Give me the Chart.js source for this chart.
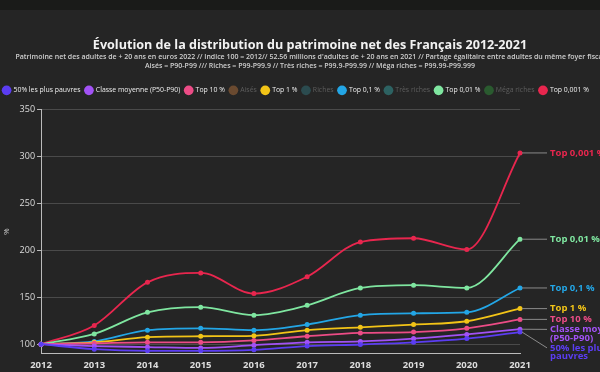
<!DOCTYPE html>
<html>
<head>
<meta charset="utf-8">
<script src="https://cdn.jsdelivr.net/npm/chart.js@4"></script>
<style>
html,body{margin:0;padding:0;background:#252525;overflow:hidden;width:600px;height:372px;}
#wrap{position:absolute;left:-5px;top:0;width:630px;height:372px;}
</style>
</head>
<body>
<div id="wrap"><canvas id="c" width="630" height="372"></canvas></div>
<script>
const years = ['2012','2013','2014','2015','2016','2017','2018','2019','2020','2021'];
const pauvres = [100, 94.7, 93, 93, 94, 98, 99.7, 102, 106, 113];
const moyenne = [100, 98, 97, 96, 99, 102, 103, 106, 110.5, 116];
const top10 = [100, 101, 102, 102, 104, 108.5, 112, 113, 117, 126.5];
const aises = [];
const top1 = [100, 102, 107.5, 108.5, 109, 115, 118, 121, 124.5, 138];
const riches = [];
const top01 = [100, 103, 115, 117, 115, 121, 131, 133, 134, 160];
const tresRiches = [];
const top001 = [100, 111, 134, 139.5, 131, 141.5, 160, 163, 160, 212];
const megaRiches = [];
const top0001 = [100, 120, 166, 176, 154, 172, 209, 213, 201, 304];
const yTicks = [100, 150, 200, 250, 300, 350];

const FONT = "'Open Sans', sans-serif";

function ds(label, data, color, hidden, endLabel) {
  return {
    label, data, borderColor: color, backgroundColor: color,
    pointBackgroundColor: color, pointBorderColor: color,
    pointRadius: 1.6, pointHoverRadius: 2, borderWidth: 1.8,
    tension: 0.4, cubicInterpolationMode: 'monotone', fill: false,
    hidden: hidden, endLabel: endLabel, yAxisID: 'y'
  };
}

const datasets = [
  ds('50% les plus pauvres', pauvres, '#5b3df2', false, ['50% les plus', 'pauvres']),
  ds('Classe moyenne (P50-P90)', moyenne, '#a252f5', false, ['Classe moyenne', '(P50-P90)']),
  ds('Top 10 %', top10, '#ec4c86', false, ['Top 10 %']),
  ds('Aisés', aises, '#6a4a30', true, null),
  ds('Top 1 %', top1, '#f2c417', false, ['Top 1 %']),
  ds('Riches', riches, '#2b4b4f', true, null),
  ds('Top 0,1 %', top01, '#23a6e6', false, ['Top 0,1 %']),
  ds('Très riches', tresRiches, '#2d6262', true, null),
  ds('Top 0,01 %', top001, '#7fe6a0', false, ['Top 0,01 %']),
  ds('Méga riches', megaRiches, '#2a5a2f', true, null),
  ds('Top 0,001 %', top0001, '#e8264e', false, ['Top 0,001 %'])
];

const bgPlugin = {
  id: 'bg',
  afterInit(chart) {
    const lg = chart.legend;
    if (lg) {
      const origFit = lg.fit.bind(lg);
      lg.fit = function () { origFit(); this.height += 4; };
      const origDraw = lg.draw.bind(lg);
      lg.draw = function () {
        const ctx = this.ctx;
        ctx.save();
        ctx.translate(-14, -2);
        origDraw();
        ctx.restore();
      };
    }
  },
  beforeDraw(chart) {
    const ctx = chart.ctx;
    ctx.save();
    ctx.fillStyle = '#252525';
    ctx.fillRect(0, 0, chart.width, chart.height);
    ctx.fillStyle = '#1a1b19';
    ctx.fillRect(0, 0, chart.width, 10);
    ctx.restore();
  }
};

const endLabels = {
  id: 'endLabels',
  afterDatasetsDraw(chart) {
    const ctx = chart.ctx;
    const items = [];
    chart.data.datasets.forEach((d, i) => {
      if (!chart.isDatasetVisible(i) || !d.endLabel) return;
      const meta = chart.getDatasetMeta(i);
      const pt = meta.data[meta.data.length - 1];
      if (!pt) return;
      items.push({ x: pt.x, y: pt.y, lines: d.endLabel, color: d.borderColor });
    });
    items.sort((a, b) => a.y - b.y);
    const lh = 8.5;
    let prevBottom = -Infinity;
    items.forEach(it => {
      const h = it.lines.length * lh;
      let top = it.y - lh / 2;
      if (top < prevBottom + 1.5) top = prevBottom + 1.5;
      it.top = top;
      prevBottom = top + h;
    });
    const lx = chart.chartArea.right + 30;
    ctx.save();
    ctx.font = "bold 9.5px " + FONT;
    ctx.textBaseline = 'middle';
    ctx.textAlign = 'left';
    items.forEach(it => {
      const ly = it.top + lh / 2;
      ctx.strokeStyle = '#8a8a8a';
      ctx.lineWidth = 1;
      ctx.beginPath();
      ctx.moveTo(it.x + 2, it.y);
      ctx.lineTo(lx - 3, ly);
      ctx.stroke();
      ctx.fillStyle = it.color;
      it.lines.forEach((t, k) => ctx.fillText(t, lx, ly + k * lh));
    });
    ctx.restore();
  }
};

new Chart(document.getElementById('c'), {
  type: 'line',
  data: { labels: years, datasets },
  plugins: [bgPlugin, endLabels],
  options: {
    responsive: false,
    animation: false,
    layout: { padding: { left: 7, right: 7, top: 38, bottom: 0 } },
    plugins: {
      title: {
        display: true,
        text: 'Évolution de la distribution du patrimoine net des Français 2012-2021',
        color: '#f2f2f2',
        font: { family: FONT, size: 12.6, weight: 'bold' },
        padding: { top: 0, bottom: 0 }
      },
      subtitle: {
        display: true,
        text: ["Patrimoine net des adultes de + 20 ans en euros 2022 // Indice 100 = 2012// 52.56 millions d'adultes de + 20 ans en 2021 // Partage égalitaire entre adultes du même foyer fiscal",
               'Aisés = P90-P99 /// Riches = P99-P99.9 // Très riches = P99.9-P99.99 // Méga riches = P99.99-P99.999'],
        color: '#cfcfcf',
        font: { family: FONT, size: 7, weight: '600', lineHeight: 1.2 },
        padding: { top: 0, bottom: 14 }
      },
      legend: {
        display: true,
        position: 'top',
        onClick: null,
        labels: {
          usePointStyle: true,
          pointStyle: 'circle',
          boxWidth: 8,
          boxHeight: 8,
          padding: 5,
          font: { family: FONT, size: 6.9 },
          color: '#eeeeee',
          generateLabels(chart) {
            return chart.data.datasets.map((d, i) => ({
              text: d.label,
              fillStyle: d.borderColor,
              strokeStyle: d.borderColor,
              lineWidth: 0,
              pointStyle: 'circle',
              hidden: false,
              fontColor: d.hidden ? '#5e5e5e' : '#eeeeee',
              datasetIndex: i
            }));
          }
        }
      },
      tooltip: { enabled: false }
    },
    scales: {
      x: {
        type: 'category',
        offset: false,
        grid: { display: false, drawOnChartArea: false, drawTicks: true, tickLength: 5, tickColor: '#bbbbbb' },
        border: { display: true, color: '#bbbbbb', width: 1 },
        ticks: { color: '#dddddd', font: { family: FONT, size: 9.5, weight: 'bold' }, padding: 1, maxRotation: 0 }
      },
      y: {
        min: 90, max: 350,
        afterBuildTicks(axis) { axis.ticks = yTicks.map(v => ({ value: v })); },
        grid: { color: '#4a4a4a', lineWidth: 1, tickLength: 4, tickColor: '#bbbbbb' },
        border: { display: true, color: '#bbbbbb', width: 1 },
        ticks: { color: '#dddddd', font: { family: FONT, size: 9 }, padding: 2 },
        title: { display: true, text: '%', color: '#cccccc', font: { family: FONT, size: 8 }, padding: { top: 0, bottom: 6 } }
      },
      yRight: {
        position: 'right',
        display: true,
        min: 90, max: 350,
        grid: { display: false, drawTicks: false },
        border: { display: false },
        ticks: { display: false },
        afterFit(axis) { axis.width = 98; }
      }
    }
  }
});
</script>
</body>
</html>
